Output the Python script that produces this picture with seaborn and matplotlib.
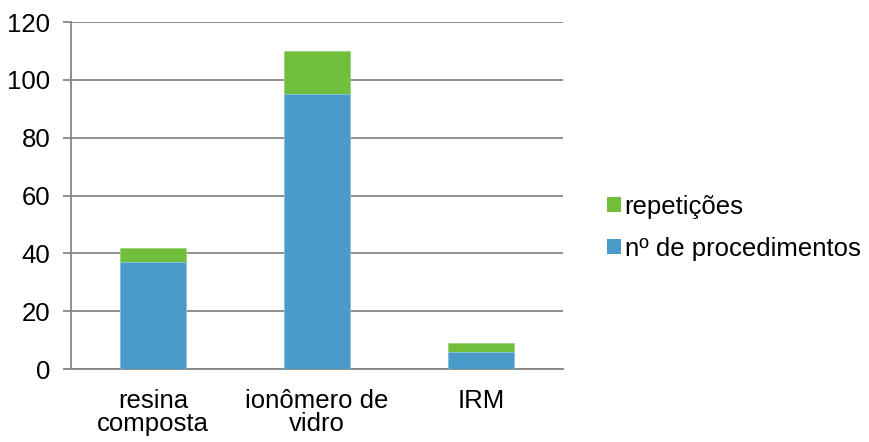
import matplotlib
matplotlib.use("Agg")
import matplotlib.pyplot as plt
import seaborn as sns
import pandas as pd
from matplotlib.patches import Patch
from matplotlib.ticker import FixedLocator, MultipleLocator

categorias = ["resina\ncomposta", "ionômero de\nvidro", "IRM"]
procedimentos = [37, 95, 6]
repeticoes = [5, 15, 3]
series = ["repetições", "nº de procedimentos"]

cor_proc = "#4A9BCA"
cor_rep = "#70BE3A"
cinza = "#868686"

sns.set_theme(style="white")
plt.rcParams["font.family"] = ["Liberation Sans", "DejaVu Sans"]
plt.rcParams["text.color"] = "black"

totais = [p + r for p, r in zip(procedimentos, repeticoes)]
df = pd.DataFrame({"categoria": categorias, "procedimentos": procedimentos, "total": totais})

fig = plt.figure(figsize=(8.69, 4.42), dpi=100)
ax = fig.add_axes([0.082, 0.165, 0.566, 0.785])

# stacked bars: total (green) behind, procedures (blue) in front
sns.barplot(data=df, x="categoria", y="total", color=cor_rep, width=0.4,
            saturation=1, ax=ax, edgecolor="#9fd27d", linewidth=0.6, zorder=3)
sns.barplot(data=df, x="categoria", y="procedimentos", color=cor_proc, width=0.4,
            saturation=1, ax=ax, edgecolor="#8cc3e3", linewidth=0.6, zorder=4)

ax.set_xlim(-0.5, 2.5)
ax.set_ylim(0, 120)
ax.yaxis.set_major_locator(MultipleLocator(20))
ax.set_xlabel("")
ax.set_ylabel("")

ax.grid(axis="y", color=cinza, linewidth=1.3, zorder=0)
ax.set_axisbelow(True)

for s in ["top", "right"]:
    ax.spines[s].set_visible(False)
for s in ["left", "bottom"]:
    ax.spines[s].set_color(cinza)
    ax.spines[s].set_linewidth(1.3)

fs = 18.5
# category boundary ticks on the x axis
ax.xaxis.set_minor_locator(FixedLocator([-0.5, 0.5, 1.5, 2.5]))
ax.tick_params(axis="x", which="major", length=0, labelsize=fs, pad=14, colors="black")
ax.tick_params(axis="x", which="minor", length=6, width=1.3, color=cinza, direction="out")
ax.tick_params(axis="y", which="major", length=6, width=1.3, color=cinza, labelsize=fs,
               pad=9, labelcolor="black", left=True)
for lbl in ax.get_xticklabels():
    lbl.set_linespacing(0.98)

handles = [Patch(facecolor=cor_rep, edgecolor="none"), Patch(facecolor=cor_proc, edgecolor="none")]
fig.legend(handles, series, loc="center left", bbox_to_anchor=(0.698, 0.485),
           frameon=False, fontsize=fs, handlelength=0.55, handleheight=0.55,
           handletextpad=0.15, labelspacing=0.7, borderpad=0, borderaxespad=0)

fig.savefig("out.png", dpi=100, facecolor="white")
